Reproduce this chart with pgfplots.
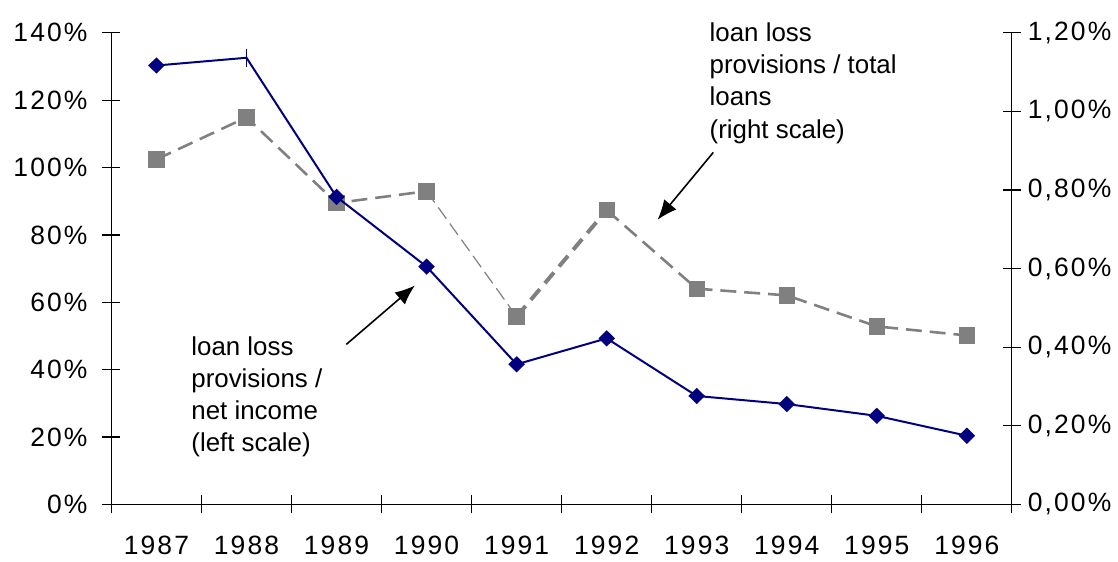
\documentclass[border=0pt]{standalone}
\usepackage{fontspec}
\setmainfont{Liberation Sans}
\newfontfamily\tickfont[LetterSpace=8]{Liberation Sans}
\usepackage{pgfplots}
\pgfplotsset{compat=1.18}
\usepackage{pgfplotstable}
\usetikzlibrary{arrows.meta}
\definecolor{navy}{RGB}{0,0,128}
\definecolor{grayline}{RGB}{128,128,128}

\pgfplotstableread{
x lp ll
0 130.3 0.878
1 132.6 0.985
2 91.3 0.767
3 70.6 0.797
4 41.6 0.478
5 49.3 0.749
6 32.2 0.549
7 29.8 0.532
8 26.3 0.453
9 20.4 0.430
}\data

\begin{document}
\begin{tikzpicture}
\pgfplotsset{
  common/.style={
    scale only axis,
    width=452.5pt, height=237pt,
    xmin=-0.5, xmax=9.5,
    clip=false,
    tick align=center,
    major tick length=9pt,
    every tick/.style={black, line width=0.6pt},
    tick label style={font=\fontsize{13.3}{15}\tickfont},
    /pgf/number format/assume math mode=true,
    axis line style={line width=0.6pt},
  }
}
% right axis (gray series)
\begin{axis}[common,
  axis y line*=right,
  axis x line=none,
  ymin=0, ymax=1.2,
  ytick={0,0.2,0.4,0.6,0.8,1.0,1.2},
  yticklabel={\pgfmathprintnumber[fixed,fixed zerofill,precision=2,use comma]{\tick}\%},
  yticklabel style={anchor=west, xshift=0pt},
]
\addplot[grayline, line width=1.3pt, dash pattern=on 8pt off 4pt, restrict x to domain=0:3] table[x=x,y=ll]{\data};
\addplot[grayline, line width=0.6pt, dash pattern=on 7pt off 3pt, restrict x to domain=3:4] table[x=x,y=ll]{\data};
\addplot[grayline, line width=2pt, dash pattern=on 7pt off 4pt, restrict x to domain=4:5] table[x=x,y=ll]{\data};
\addplot[grayline, line width=1.3pt, dash pattern=on 8pt off 4pt, restrict x to domain=5:9] table[x=x,y=ll]{\data};
\addplot[grayline, only marks, mark=square*, mark size=3.9pt, mark options={fill=grayline, draw=grayline, solid}] table[x=x,y=ll]{\data};
\end{axis}
% left axis (blue series)
\begin{axis}[common, name=ax,
  axis y line*=left,
  axis x line*=bottom,
  ymin=0, ymax=140,
  ytick={0,20,40,60,80,100,120,140},
  yticklabel={\pgfmathprintnumber{\tick}\%},
  yticklabel style={anchor=east, xshift=-4pt},
  xtick={-0.5,0.5,1.5,2.5,3.5,4.5,5.5,6.5,7.5,8.5,9.5},
  xticklabels={1987,1988,1989,1990,1991,1992,1993,1994,1995,1996,},
  xticklabel style={xshift=22.625pt, yshift=-8pt},
]
\addplot[navy, line width=1pt, mark=diamond*, mark size=3.4pt,
  mark options={fill=navy, draw=navy, xscale=1.35},
  mark indices={1,3,4,5,6,7,8,9,10}] table[x=x,y=lp]{\data};
\addplot[navy, line width=1pt, only marks, mark=|, mark size=4.5pt,
  restrict x to domain=0.9:1.1] table[x=x,y=lp]{\data};
\draw[black, line width=0.8pt, -{Latex[length=10pt,width=8pt]}] (axis cs:2.108,47.5) -- (axis cs:2.870,65.0);
\draw[black, line width=0.8pt, -{Latex[length=10pt,width=8pt]}] (axis cs:6.184,104.5) -- (axis cs:5.565,84.5);
\node[anchor=north west, align=left, inner sep=0pt, font=\fontsize{13}{16}\selectfont] at (axis cs:0.384,49.9) {loan loss\\provisions /\\net income\\(left scale)};
\node[anchor=north west, align=left, inner sep=0pt, font=\fontsize{13}{16.25}\selectfont] at (axis cs:6.14,143.2) {loan loss\\provisions / total\\loans\\(right scale)};
\end{axis}
\path ([shift={(-56pt,-26.5pt)}]ax.south west) rectangle ([shift={(50.5pt,16.5pt)}]ax.north east);
\end{tikzpicture}
\end{document}
